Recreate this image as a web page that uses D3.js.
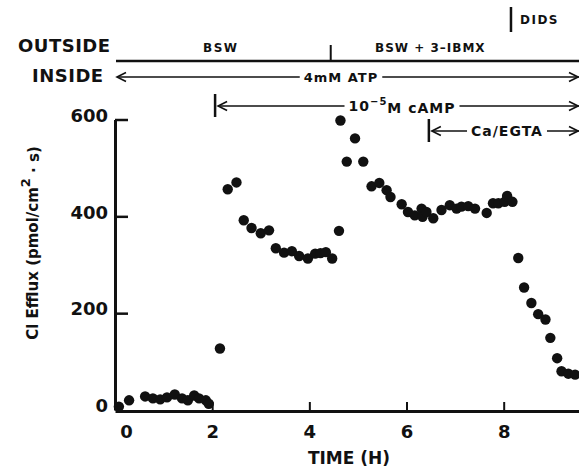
<!DOCTYPE html>
<html>
<head>
<meta charset="utf-8">
<script src="https://cdn.jsdelivr.net/npm/d3@7"></script>
<style>
  body { margin: 0; background: #fff; }
  svg text { font-family: "DejaVu Sans", sans-serif; font-weight: bold; fill: #111; }
</style>
</head>
<body>
<div id="chart"></div>
<script>
// data: time in hours, Cl efflux in pmol/cm2.s
var timeH = [0.08, 0.29, 0.62, 0.78, 0.93, 1.07, 1.23, 1.38, 1.50, 1.63, 1.73, 1.87, 1.93,
  2.16, 2.32, 2.50, 2.65, 2.81, 3.00, 3.17, 3.31, 3.48, 3.64, 3.79, 3.97, 4.12, 4.23, 4.34, 4.47, 4.61,
  4.64, 4.77, 4.94, 5.11, 5.28, 5.44, 5.59, 5.67, 5.90, 6.03, 6.17, 6.31, 6.33, 6.41, 6.55, 6.72,
  6.89, 7.03, 7.13, 7.27, 7.41, 7.65, 7.78, 7.89, 8.02, 8.07, 8.18,
  8.30, 8.42, 8.57, 8.71, 8.86, 8.96, 9.10, 9.19, 9.33, 9.47];
var efflux = [7, 20, 28, 24, 22, 26, 32, 24, 20, 30, 24, 20, 13,
  127, 456, 470, 392, 376, 365, 371, 334, 325, 328, 318, 313, 323, 324, 326, 313, 370,
  598, 513, 561, 513, 462, 469, 454, 440, 425, 409, 402, 416, 399, 409, 396, 413,
  423, 416, 420, 421, 416, 407, 427, 427, 430, 442, 430,
  314, 253, 221, 198, 187, 149, 107, 80, 75, 73];

var xTicks = [0, 2, 4, 6, 8];
var yTicks = [0, 200, 400, 600];

// treatment times (h)
var ibmxStart = 4.44;
var campStart = 2.06;
var egtaStart = 6.46;
var didsTime = 8.15;

var width = 579, height = 467;

var x = d3.scaleLinear().domain([0, 9.55]).range([115, 579]);
var y = d3.scaleLinear().domain([0, 600]).range([410, 119.5]);

var svg = d3.select("#chart").append("svg")
  .attr("width", width)
  .attr("height", height);

// y axis, ticks pointing inward
var yAxis = svg.append("g")
  .attr("transform", "translate(" + x(0) + ",0)")
  .call(d3.axisLeft(y).tickValues(yTicks).tickSize(-13).tickSizeOuter(0).tickPadding(7));
yAxis.select(".domain").attr("stroke", "#111").attr("stroke-width", 3);
yAxis.selectAll(".tick line").attr("stroke", "#111").attr("stroke-width", 2.5);
yAxis.selectAll(".tick text").attr("font-size", 18).attr("dy", "0.1em");
yAxis.selectAll(".tick").filter(function(d) { return d === 0; }).select("line").remove();

// x axis
var xAxis = svg.append("g")
  .attr("transform", "translate(0," + (y(0) + 1) + ")")
  .call(d3.axisBottom(x).tickValues(xTicks).tickSize(-9).tickSizeOuter(0).tickPadding(14));
xAxis.select(".domain").attr("stroke", "#111").attr("stroke-width", 3);
xAxis.selectAll(".tick line").attr("stroke", "#111").attr("stroke-width", 2);
xAxis.selectAll(".tick text").attr("font-size", 18);
xAxis.selectAll(".tick").filter(function(d) { return d === 0; })
  .select("text").attr("dx", 11);
xAxis.selectAll(".tick").filter(function(d) { return d === 0; }).select("line").remove();

svg.append("text")
  .attr("x", 349).attr("y", 458)
  .attr("text-anchor", "middle").attr("dy", "0.35em")
  .attr("font-size", 17)
  .text("TIME (H)");

var yl = svg.append("text")
  .attr("transform", "translate(33,243) rotate(-90)")
  .attr("text-anchor", "middle").attr("dy", "0.35em")
  .attr("font-size", 15);
yl.append("tspan").text("Cl Efflux (pmol/cm");
yl.append("tspan").attr("dy", "-0.6em").attr("font-size", 13).text("2");
yl.append("tspan").attr("dy", "0.6em").text(" \u00b7 s)");

// points
svg.append("g").selectAll("circle")
  .data(timeH)
  .join("circle")
  .attr("cx", function(d) { return x(d); })
  .attr("cy", function(d, i) { return y(efflux[i]); })
  .attr("r", 5.2)
  .attr("fill", "#111");

// ---- annotations above the plot ----
function leftHead(g, px, py) {
  g.append("path")
    .attr("d", "M" + (px + 9) + "," + (py - 4.5) + "L" + px + "," + py + "L" + (px + 9) + "," + (py + 4.5))
    .attr("fill", "none").attr("stroke", "#111").attr("stroke-width", 1.6);
}
function rightHead(g, px, py) {
  g.append("path")
    .attr("d", "M" + (px - 9) + "," + (py - 4.5) + "L" + px + "," + py + "L" + (px - 9) + "," + (py + 4.5))
    .attr("fill", "none").attr("stroke", "#111").attr("stroke-width", 1.6);
}
function arrowLabel(parent, x0, x1, py, cx, label, size) {
  var g = parent.append("g");
  g.append("line")
    .attr("x1", x0).attr("x2", x1).attr("y1", py).attr("y2", py)
    .attr("stroke", "#111").attr("stroke-width", 1.6);
  var gap = g.append("rect").attr("fill", "#fff");
  var t = g.append("text")
    .attr("x", cx).attr("y", py).attr("dy", "0.35em")
    .attr("text-anchor", "middle")
    .attr("font-size", size).attr("letter-spacing", 1);
  label(t);
  var bb = t.node().getBBox();
  gap.attr("x", bb.x - 4).attr("y", py - 3).attr("width", bb.width + 8).attr("height", 6);
  leftHead(g, x0, py);
  rightHead(g, x1 - 1, py);
}

var ann = svg.append("g");

ann.append("text").attr("x", 18).attr("y", 46).attr("dy", "0.35em")
  .attr("font-size", 18).attr("letter-spacing", 0.5).text("OUTSIDE");
ann.append("text").attr("x", 32).attr("y", 76).attr("dy", "0.35em")
  .attr("font-size", 18).attr("letter-spacing", 0.5).text("INSIDE");

ann.append("text").attr("x", 203).attr("y", 48).attr("dy", "0.35em")
  .attr("font-size", 12).attr("letter-spacing", 1.5).text("BSW");
ann.append("text").attr("x", 375).attr("y", 48).attr("dy", "0.35em")
  .attr("font-size", 12).attr("letter-spacing", 1).text("BSW + 3\u2013IBMX");

ann.append("line")
  .attr("x1", x(0) + 1).attr("x2", width).attr("y1", 61).attr("y2", 61)
  .attr("stroke", "#111").attr("stroke-width", 2.5);
ann.append("line")
  .attr("x1", x(ibmxStart)).attr("x2", x(ibmxStart)).attr("y1", 45).attr("y2", 61)
  .attr("stroke", "#111").attr("stroke-width", 2);

// DIDS marker
ann.append("line")
  .attr("x1", x(didsTime)).attr("x2", x(didsTime)).attr("y1", 7).attr("y2", 32)
  .attr("stroke", "#111").attr("stroke-width", 2.5);
ann.append("text").attr("x", x(didsTime) + 9).attr("y", 20).attr("dy", "0.35em")
  .attr("font-size", 12).attr("letter-spacing", 1.5).text("DIDS");

// 4mM ATP
arrowLabel(ann, x(0) + 2, width, 77, 341, function(t) { t.text("4mM ATP"); }, 13);

// cAMP
ann.append("line")
  .attr("x1", x(campStart)).attr("x2", x(campStart)).attr("y1", 94).attr("y2", 117)
  .attr("stroke", "#111").attr("stroke-width", 2.5);
arrowLabel(ann, x(campStart) + 3, width, 106, 402, function(t) {
  t.append("tspan").text("10");
  t.append("tspan").attr("dy", "-0.55em").attr("font-size", 10).text("\u22125");
  t.append("tspan").attr("dy", "0.55em").text("M cAMP");
}, 14);

// Ca/EGTA
ann.append("line")
  .attr("x1", x(egtaStart)).attr("x2", x(egtaStart)).attr("y1", 119).attr("y2", 142)
  .attr("stroke", "#111").attr("stroke-width", 2.5);
arrowLabel(ann, x(egtaStart) + 3, width, 131, 507, function(t) { t.text("Ca/EGTA"); }, 14);
</script>
</body>
</html>
